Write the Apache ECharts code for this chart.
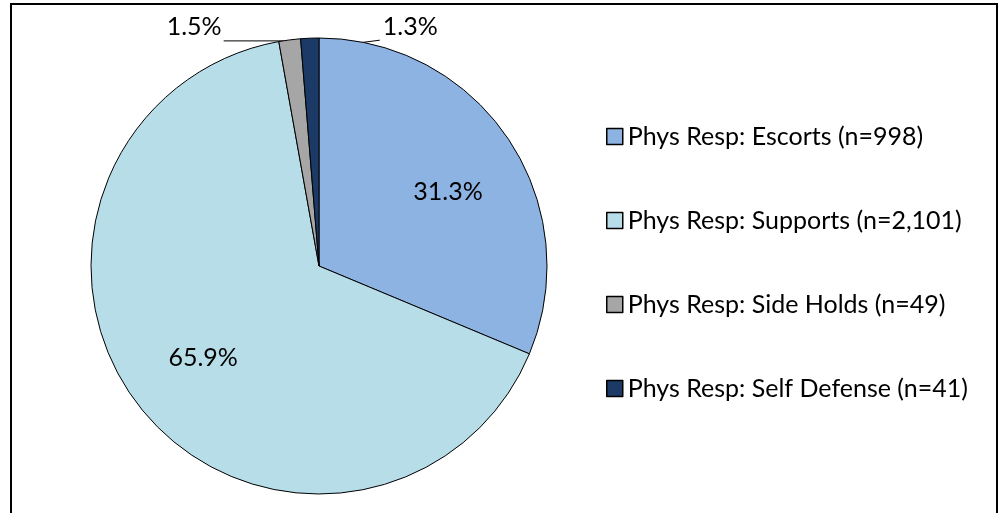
<!DOCTYPE html>
<html>
<head>
<meta charset="utf-8">
<script src="https://cdn.jsdelivr.net/npm/echarts@6/dist/echarts.min.js"></script>
<style>
  html, body { margin: 0; padding: 0; background: #fff; }
  #chart { width: 1002px; height: 513px; }
</style>
</head>
<body>
<div id="chart"></div>
<script>
// Data
var categories = ['Phys Resp: Escorts', 'Phys Resp: Supports', 'Phys Resp: Side Holds', 'Phys Resp: Self Defense'];
var counts = [998, 2101, 49, 41];
var colors = ['#8DB3E2', '#B7DEE8', '#A6A6A6', '#1B3A66'];

var FONT = 'Lato, "Noto Sans", sans-serif';
var FONT_SIZE = 25;

var names = categories.map(function (c, i) {
    return c + ' (n=' + counts[i].toLocaleString('en-US') + ')';
});

// outside labels for the two thin slices, inside labels come from the overlay ring
var mainData = counts.map(function (v, i) {
    var outside = i >= 2;
    return {
        name: names[i],
        value: v,
        label: { show: outside },
        labelLine: { show: outside }
    };
});
// small nudges so the inside labels sit where Excel put them
var insideOffsets = [[0, 12], [5, -5]];
var ringData = counts.map(function (v, i) {
    var inside = i < 2;
    return {
        name: names[i],
        value: v,
        label: inside ? { show: true, offset: insideOffsets[i] } : { show: false }
    };
});

var chart = echarts.init(document.getElementById('chart'));

var option = {
    animation: false,
    color: colors,
    textStyle: { fontFamily: FONT },
    legend: {
        data: names,
        orient: 'vertical',
        left: 601,
        top: 119,
        itemWidth: 16,
        itemHeight: 16,
        itemGap: 59,
        icon: 'rect',
        itemStyle: { borderColor: '#000', borderWidth: 1.5 },
        textStyle: { fontFamily: FONT, fontSize: FONT_SIZE, color: '#000' }
    },
    graphic: [{
        type: 'rect',
        shape: { x: 11, y: 4, width: 986, height: 530 },
        style: { fill: 'none', stroke: '#000', lineWidth: 2 },
        silent: true
    }],
    series: [
        {
            type: 'pie',
            center: [319, 266],
            radius: 228,
            startAngle: 90,
            clockwise: true,
            percentPrecision: 1,
            avoidLabelOverlap: false,
            itemStyle: { borderColor: '#000', borderWidth: 1 },
            label: {
                position: 'outside',
                formatter: '{d}%',
                fontFamily: FONT,
                fontSize: FONT_SIZE,
                color: '#000'
            },
            labelLine: {
                length: 10,
                length2: 40,
                lineStyle: { color: '#000', width: 1 }
            },
            labelLayout: function (params) {
                var p0 = params.labelLinePoints && params.labelLinePoints[0];
                if (!p0) return {};
                if (params.dataIndex === 2) {
                    return {
                        x: p0[0] - 68,
                        y: p0[1] - 13,
                        align: 'right',
                        verticalAlign: 'middle',
                        labelLinePoints: [[p0[0] - 6, p0[1] + 1], [p0[0] - 66, p0[1] + 1]]
                    };
                }
                if (params.dataIndex === 3) {
                    return {
                        x: p0[0] + 73,
                        y: p0[1] - 11,
                        align: 'left',
                        verticalAlign: 'middle',
                        labelLinePoints: [[p0[0] + 9, p0[1] + 10], [p0[0] + 70, p0[1] + 2]]
                    };
                }
                return {};
            },
            emphasis: { disabled: true },
            data: mainData
        },
        {
            // transparent ring, only used to place the big percentage labels
            type: 'pie',
            center: [319, 266],
            radius: [76, 228],
            startAngle: 90,
            clockwise: true,
            percentPrecision: 1,
            silent: true,
            itemStyle: { color: 'rgba(0,0,0,0)', borderWidth: 0 },
            label: {
                position: 'inside',
                formatter: '{d}%',
                fontFamily: FONT,
                fontSize: FONT_SIZE,
                color: '#000'
            },
            labelLine: { show: false },
            emphasis: { disabled: true },
            data: ringData
        }
    ]
};

chart.setOption(option);
window.addEventListener('resize', function () {
    chart.resize();
});
</script>
</body>
</html>
